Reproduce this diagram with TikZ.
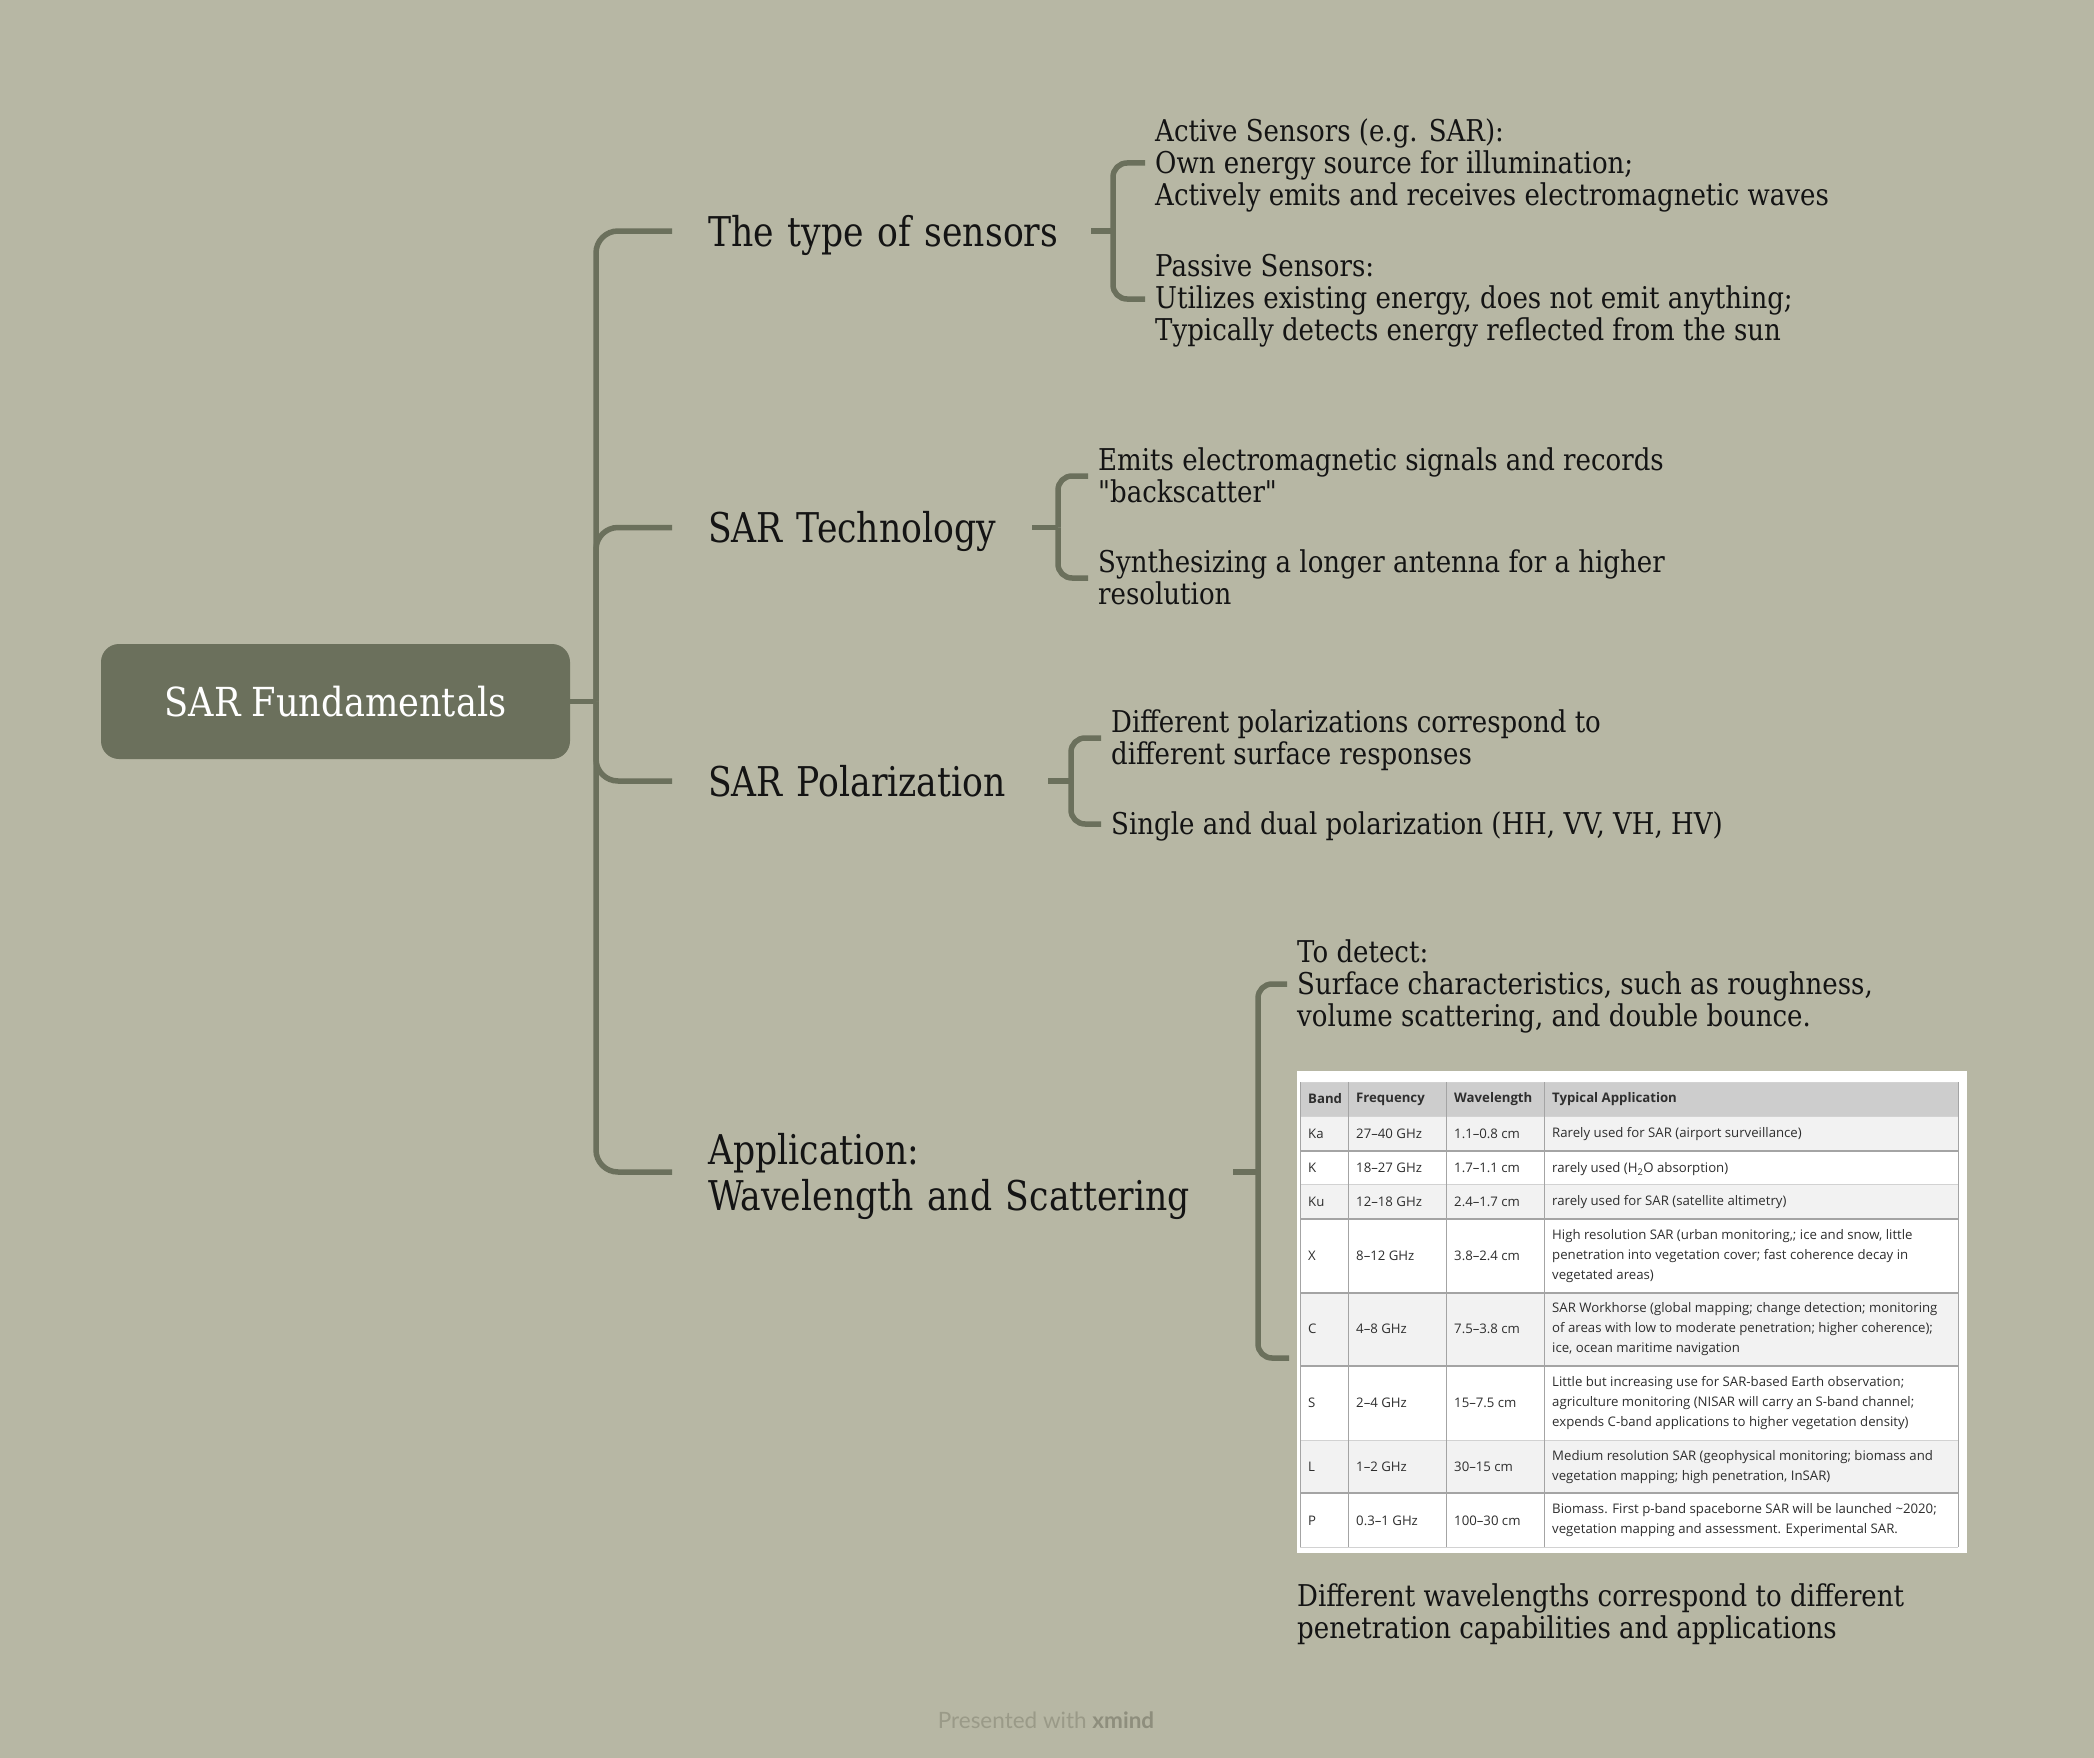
\documentclass[tikz,border=0pt]{standalone}
\usepackage{fontspec}
\setmainfont[FakeStretch=0.868, Ligatures=TeXOff]{DejaVu Serif}
\newfontfamily\brfont[FakeStretch=0.844]{DejaVu Serif}
\newfontfamily\rootfont[FakeStretch=0.88]{DejaVu Serif}
\newfontfamily\tabfont{Open Sans}
\newfontfamily\wmfont{Lato}
\definecolor{bg}{HTML}{B7B7A4}
\definecolor{sage}{HTML}{6B705C}
\definecolor{ink}{HTML}{141414}
\definecolor{tabink}{HTML}{2E2E2E}
\definecolor{hdr}{HTML}{CDCDCD}
\definecolor{rowg}{HTML}{F2F2F2}
\definecolor{tthick}{HTML}{A4A4A4}
\definecolor{tthin}{HTML}{D2D2D2}
\definecolor{wm}{HTML}{9A9A88}
\definecolor{wmb}{HTML}{8E8E7D}
\tikzset{
  conn/.style={draw=sage, line width=5.5pt},
  rootbox/.style={fill=sage, rounded corners=18pt, minimum width=469pt, minimum height=115pt,
    text=white, font=\rootfont\fontsize{40}{44}\selectfont, inner sep=0},
  branch/.style={anchor=west, inner sep=0, align=left, text=ink, font=\brfont\fontsize{41}{46}\selectfont, yshift=-4pt},
  leaf/.style={anchor=west, inner xsep=10pt, inner ysep=0, align=left, text=ink,
    font=\fontsize{30}{32}\selectfont, yshift=-3pt},
  cell/.style={anchor=west, inner sep=0, align=left, text=tabink, font=\tabfont\fontsize{13.2}{20}\selectfont},
  hcell/.style={anchor=west, inner sep=0, align=left, text=tabink, font=\tabfont\bfseries\fontsize{13.2}{20}\selectfont},
  thickrule/.style={draw=tthick, line width=2pt},
  thinrule/.style={draw=tthin, line width=1pt},
}
\begin{document}
\begin{tikzpicture}[x=1pt, y=-1pt]
\useasboundingbox (0,0) rectangle (2094,1758);
\fill[bg] (0,0) rectangle (2094,1758);

% root
\node[rootbox] (root) at (335.5,701.5) {SAR Fundamentals};
\coordinate (J) at (596,701.5);

% branches
\node[branch, text width=383pt] (b1) at (708,231) {The type of sensors};
\node[branch, text width=324pt] (b2) at (708,527.5) {SAR Technology};
\node[branch, text width=340pt] (b3) at (708,781) {SAR Polarization\vphantom{g}};
\node[branch, text width=525pt] (b4) at (708,1172) {Application:\\Wavelength and Scattering};

\draw[conn] (root.east) -- (J);
\foreach \b in {b1,b2,b3,b4}{
  \draw[conn, rounded corners=22pt] (J) |- ([xshift=-36pt,yshift=4pt]\b.west);
}

% leaves of b1
\coordinate (k1) at (1113,231);
\node[leaf] (c11) at (1145,162) {Active Sensors (e.g. SAR):\\Own energy source for illumination;\\Actively emits and receives electromagnetic waves};
\node[leaf] (c12) at (1145,298) {Passive Sensors:\\Utilizes existing energy, does not emit anything;\\Typically detects energy reflected from the sun};
\draw[conn] ([yshift=4pt]b1.east) -- (k1);
\draw[conn, rounded corners=14pt] (k1) |- ([yshift=2pt]c11.west);
\draw[conn, rounded corners=14pt] (k1) |- ([yshift=2pt]c12.west);

% leaves of b2
\coordinate (k2) at (1058,527.5);
\node[leaf] (c21) at (1088,475) {Emits electromagnetic signals and records\\"backscatter"\vphantom{g}};
\node[leaf] (c22) at (1088,577) {Synthesizing a longer antenna for a higher\\resolution\vphantom{g}};
\draw[conn] ([yshift=4pt]b2.east) -- (k2);
\draw[conn, rounded corners=14pt] (k2) |- ([yshift=2pt]c21.west);
\draw[conn, rounded corners=14pt] (k2) |- ([yshift=2pt]c22.west);

% leaves of b3
\coordinate (k3) at (1071,781);
\node[leaf] (c31) at (1101,737) {Different polarizations correspond to\\different surface responses};
\node[leaf] (c32) at (1101,823) {Single and dual polarization (HH, VV, VH, HV)};
\draw[conn] ([yshift=4pt]b3.east) -- (k3);
\draw[conn, rounded corners=14pt] (k3) |- ([yshift=2pt]c31.west);
\draw[conn, rounded corners=14pt] (k3) |- ([yshift=2pt]c32.west);

% leaves of b4
\coordinate (k4) at (1258,1172);
\node[leaf] (c41) at (1287,983) {To detect:\\Surface characteristics, such as roughness,\\volume scattering, and double bounce.};
\coordinate (c42) at (1289,1358);
\draw[conn] ([yshift=4pt]b4.east) -- (k4);
\draw[conn, rounded corners=14pt] (k4) |- ([yshift=2pt]c41.west);
\draw[conn, rounded corners=14pt] (k4) |- (c42);

% table image
\fill[white] (1297,1071) rectangle (1967,1553);
\fill[hdr] (1300,1082) rectangle (1958,1116.7);
\fill[rowg] (1300,1116.7) rectangle (1958,1150.7);
\fill[rowg] (1300,1184.3) rectangle (1958,1219);
\fill[rowg] (1300,1292.7) rectangle (1958,1365.7);
\fill[rowg] (1300,1440) rectangle (1958,1493.3);
\draw[thinrule] (1300,1082) -- (1958,1082);
\draw[thinrule] (1300,1116.7) -- (1958,1116.7);
\draw[thickrule] (1300,1150.7) -- (1958,1150.7);
\draw[thinrule] (1300,1184.3) -- (1958,1184.3);
\draw[thickrule] (1300,1219) -- (1958,1219);
\draw[thickrule] (1300,1292.7) -- (1958,1292.7);
\draw[thickrule] (1300,1365.7) -- (1958,1365.7);
\draw[thinrule] (1300,1440) -- (1958,1440);
\draw[thickrule] (1300,1493.3) -- (1958,1493.3);
\draw[thinrule] (1300,1547.3) -- (1958,1547.3);
\foreach \cx in {1300,1348.5,1446.5,1544.6,1958}{
  \draw[draw=tthick, line width=1pt] (\cx,1082) -- (\cx,1547.3);
}

% header
\node[hcell] (h1) at (1308,1099) {Band};
\node[hcell] (h2) at (1356,1099) {Frequency};
\node[hcell] (h3) at (1454,1099) {Wavelength};
\node[hcell] (h4) at (1552,1099) {Typical Application};
% Ka
\node[cell] (ka1) at (1308,1133.7) {Ka};
\node[cell] (ka2) at (1356,1133.7) {27–40 GHz};
\node[cell] (ka3) at (1454,1133.7) {1.1–0.8 cm};
\node[cell] (ka4) at (1552,1133.7) {Rarely used for SAR (airport surveillance)};
% K
\node[cell] (k1t) at (1308,1167.5) {K};
\node[cell] (k2t) at (1356,1167.5) {18–27 GHz};
\node[cell] (k3t) at (1454,1167.5) {1.7–1.1 cm};
\node[cell, yshift=-2pt] (k4t) at (1552,1167.5) {rarely used (H\textsubscript{2}O absorption)};
% Ku
\node[cell] (ku1) at (1308,1201.6) {Ku};
\node[cell] (ku2) at (1356,1201.6) {12–18 GHz};
\node[cell] (ku3) at (1454,1201.6) {2.4–1.7 cm};
\node[cell] (ku4) at (1552,1201.6) {rarely used for SAR (satellite altimetry)};
% X
\node[cell] (x1) at (1308,1255.8) {X};
\node[cell] (x2) at (1356,1255.8) {8–12 GHz};
\node[cell] (x3) at (1454,1255.8) {3.8–2.4 cm};
\node[cell] (x4) at (1552,1255.8) {High resolution SAR (urban monitoring,; ice and snow, little\\penetration into vegetation cover; fast coherence decay in\\vegetated areas)};
% C
\node[cell] (cc1) at (1308,1329) {C};
\node[cell] (cc2) at (1356,1329) {4–8 GHz};
\node[cell] (cc3) at (1454,1329) {7.5–3.8 cm};
\node[cell] (cc4) at (1552,1329) {SAR Workhorse (global mapping; change detection; monitoring\\of areas with low to moderate penetration; higher coherence);\\ice, ocean maritime navigation};
% S
\node[cell] (s1) at (1308,1403) {S};
\node[cell] (s2) at (1356,1403) {2–4 GHz};
\node[cell] (s3) at (1454,1403) {15–7.5 cm};
\node[cell] (s4) at (1552,1403) {Little but increasing use for SAR-based Earth observation;\\agriculture monitoring (NISAR will carry an S-band channel;\\expends C-band applications to higher vegetation density)};
% L
\node[cell] (l1) at (1308,1466.7) {L};
\node[cell] (l2) at (1356,1466.7) {1–2 GHz};
\node[cell] (l3) at (1454,1466.7) {30–15 cm};
\node[cell] (l4) at (1552,1466.7) {Medium resolution SAR (geophysical monitoring; biomass and\\vegetation mapping; high penetration, InSAR)};
% P
\node[cell] (p1) at (1308,1520.3) {P};
\node[cell] (p2) at (1356,1520.3) {0.3–1 GHz};
\node[cell] (p3) at (1454,1520.3) {100–30 cm};
\node[cell] (p4) at (1552,1520.3) {Biomass. First p-band spaceborne SAR will be launched \textasciitilde 2020;\\vegetation mapping and assessment. Experimental SAR.};

% caption
\node[anchor=west, inner sep=0, align=left, text=ink, font=\fontsize{30}{32}\selectfont, yshift=-3pt] (cap) at (1297,1611)
  {Different wavelengths correspond to different\\penetration capabilities and applications};

% watermark
\node[text=wm, font=\wmfont\fontsize{22.5}{26}\selectfont, inner sep=0] (wmk) at (1046,1720)
  {Presented with \textcolor{wmb}{\bfseries xmind}};
\end{tikzpicture}
\end{document}
